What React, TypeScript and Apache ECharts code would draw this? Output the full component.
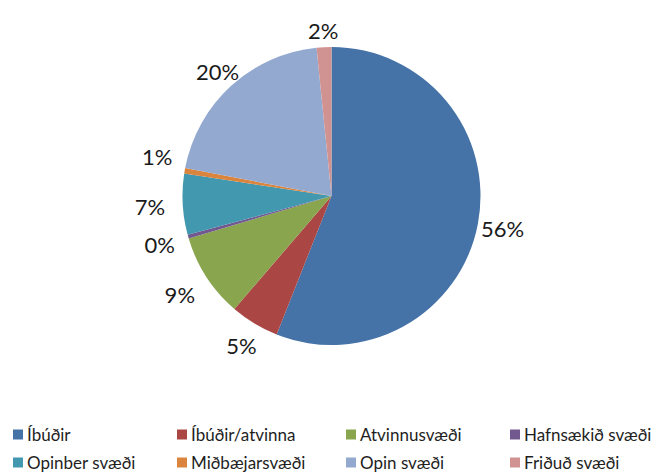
import React, { useEffect, useRef } from "react";
import * as echarts from "echarts";

const categories = [
  "Íbúðir",
  "Íbúðir/atvinna",
  "Atvinnusvæði",
  "Hafnsækið svæði",
  "Opinber svæði",
  "Miðbæjarsvæði",
  "Opin svæði",
  "Friðuð svæði",
];
const values = [56.0, 5.3, 9.1, 0.4, 6.6, 0.6, 20.4, 1.6];
const colors = ["#4572A7", "#AA4643", "#89A54E", "#71588F", "#4198AF", "#DB843D", "#93A9CF", "#D19392"];

const FONT = "Lato";

export default function App() {
  const ref = useRef<HTMLDivElement>(null);
  useEffect(() => {
    if (!ref.current) return;
    const chart = echarts.init(ref.current, undefined, { renderer: "svg" });
    const cx = 331.5;
    const cy = 196;
    const R = 149;
    // label gap beyond pie edge (style tuning, Excel-like best fit)
    const gaps = [2, 8, 13, 12, 17, 11, -3, 5];
    const nudgeY = [0, 0, 0, 0, 0, -10, 0, 0];
    const total = values.reduce((a, b) => a + b, 0);
    const mids: number[] = [];
    let acc = 0;
    values.forEach((v) => {
      mids.push(((acc + v / 2) / total) * Math.PI * 2);
      acc += v;
    });

    const legendLefts = [13, 177, 346, 510];
    const legends = categories.map((name, i) => ({
      left: legendLefts[i % 4],
      top: i < 4 ? 426 : 454,
      padding: 0,
      icon: "rect",
      itemWidth: 10,
      itemHeight: 10,
      selectedMode: false,
      data: [name],
      textStyle: { fontFamily: FONT, fontSize: 17, color: "#1e1e1e", padding: [0, 0, 0, -1] },
    }));
    chart.setOption({
      animation: false,
      color: colors,
      legend: legends,
      series: [
        {
          type: "pie",
          center: [cx, cy],
          radius: R,
          startAngle: 90,
          clockwise: true,
          avoidLabelOverlap: false,
          data: categories.map((name, i) => ({ name, value: values[i] })),
          label: {
            show: true,
            position: "outside",
            fontFamily: FONT,
            fontSize: 22,
            color: "#1a1a1a",
            formatter: (p: any) => Math.round(p.percent) + "%",
          },
          labelLine: { show: false, length: 6, length2: 0 },
          labelLayout: (p: any) => {
            const i = p.dataIndex;
            const a = mids[i];
            const ux = Math.sin(a);
            const uy = -Math.cos(a);
            const w = p.labelRect.width;
            const h = p.labelRect.height;
            const k = Math.abs(ux) * (w / 2) + Math.abs(uy) * (h / 2);
            const d = R + gaps[i] + k;
            return {
              x: cx + ux * d,
              y: cy + uy * d + nudgeY[i],
              align: "center",
              verticalAlign: "middle",
              hideOverlap: false,
            };
          },
          itemStyle: { borderWidth: 0 },
          emphasis: { disabled: true },
        },
      ],
    });
    return () => chart.dispose();
  }, []);
  return <div ref={ref} style={{ width: 672, height: 476, position: "absolute", left: 0, top: 0, background: "#fff" }} />;
}
